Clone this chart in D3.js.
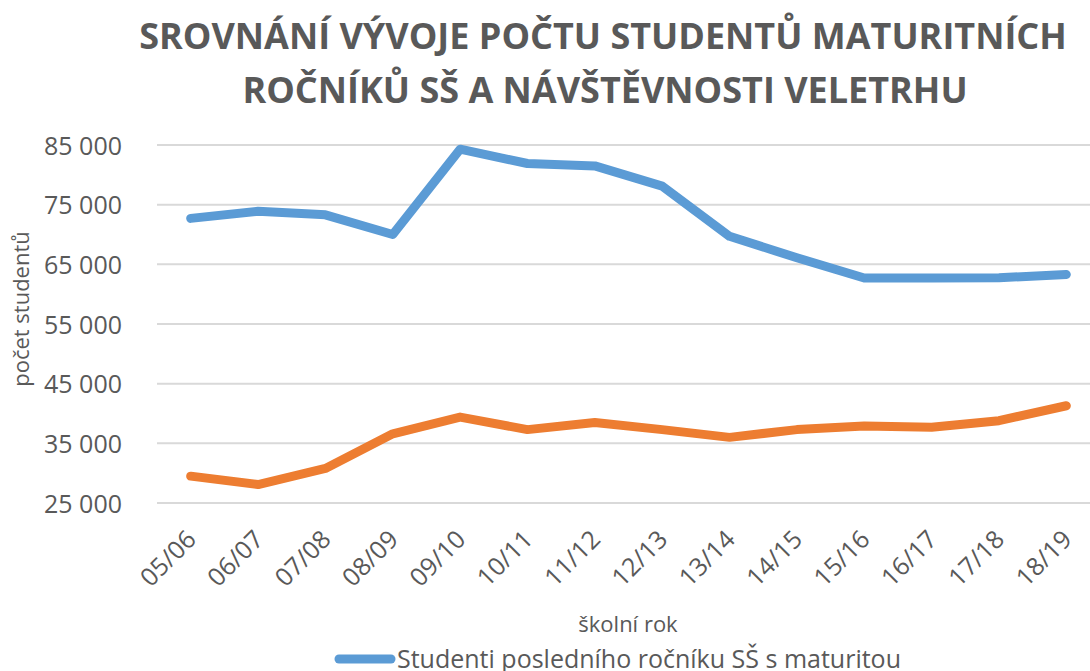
<!DOCTYPE html>
<html>
<head>
<meta charset="utf-8">
<script src="https://cdn.jsdelivr.net/npm/d3@7"></script>
<style>
	body { margin: 0; background: #fff; }
	svg { display: block; font-family: 'Open Sans', sans-serif; }
	.grid-line { stroke: #d9d9d9; stroke-width: 2; }
	.y-axis text, .x-axis text { fill: #595959; }
	.series { fill: none; stroke-width: 9; stroke-linecap: round; stroke-linejoin: round; }
</style>
</head>
<body>
<div id="chart-container"></div>
<script>
const years = ['05/06', '06/07', '07/08', '08/09', '09/10', '10/11', '11/12', '12/13', '13/14', '14/15', '15/16', '16/17', '17/18', '18/19'];
const students = [72700, 73900, 73300, 70000, 84300, 81900, 81500, 78100, 69700, 66100, 62700, 62700, 62750, 63300];
const visitors = [29500, 28100, 30800, 36600, 39400, 37300, 38500, 37300, 36000, 37300, 37900, 37700, 38800, 41300];
const yTicks = [25000, 35000, 45000, 55000, 65000, 75000, 85000];
const seriesNames = ['Studenti posledního ročníku SŠ s maturitou', 'Návštěvnost veletrhu'];
const colors = ['#5b9bd5', '#ed7d31'];

const width = 1090,
	height = 671;

const svg = d3
	.select('#chart-container')
	.append('svg')
	.attr('width', width)
	.attr('height', height);

const x = d3.scaleBand().domain(years).range([157, 1100]);
const y = d3.scaleLinear().domain([25000, 85000]).range([503, 145]);
const fmt = v => d3.format(',')(v).replace(',', ' ');

// title
const title = svg
	.append('text')
	.attr('text-anchor', 'middle')
	.style('font-weight', 'bold')
	.style('font-size', '36px')
	.style('fill', '#595959');
title.append('tspan').attr('x', 603).attr('y', 49).text('SROVNÁNÍ VÝVOJE POČTU STUDENTŮ MATURITNÍCH');
title.append('tspan').attr('x', 605).attr('y', 103).text('ROČNÍKŮ SŠ A NÁVŠTĚVNOSTI VELETRHU');

// gridlines
svg
	.append('g')
	.selectAll('line')
	.data(yTicks)
	.enter()
	.append('line')
	.attr('class', 'grid-line')
	.attr('x1', 157)
	.attr('x2', 1100)
	.attr('y1', d => y(d))
	.attr('y2', d => y(d));

// y axis
const yAxis = d3.axisLeft(y).tickValues(yTicks).tickFormat(fmt).tickSize(0).tickPadding(0);
const yAxisElem = svg
	.append('g')
	.attr('class', 'y-axis')
	.attr('transform', 'translate(122,0)')
	.call(yAxis);
yAxisElem.select('.domain').remove();
yAxisElem.selectAll('text').style('font-size', '25px').style('font-family', "'Open Sans', sans-serif").attr('dy', '0.36em');

svg
	.append('text')
	.attr('transform', 'translate(29,309) rotate(-90)')
	.attr('text-anchor', 'middle')
	.style('font-size', '22px')
	.style('fill', '#595959')
	.text('počet studentů');

// x axis
const xAxis = d3.axisBottom(x).tickSize(0).tickPadding(0);
const xAxisElem = svg
	.append('g')
	.attr('class', 'x-axis')
	.attr('transform', 'translate(0,503)')
	.call(xAxis);
xAxisElem.select('.domain').remove();
xAxisElem
	.selectAll('text')
	.style('font-size', '25px')
	.style('font-family', "'Open Sans', sans-serif")
	.attr('text-anchor', 'end')
	.attr('dy', 0)
	.attr('transform', 'translate(7,38) rotate(-45)');

svg
	.append('text')
	.attr('x', 628)
	.attr('y', 632)
	.attr('text-anchor', 'middle')
	.style('font-size', '22px')
	.style('fill', '#595959')
	.text('školní rok');

// lines
const line = d3
	.line()
	.x((d, i) => x(years[i]) + x.bandwidth() / 2)
	.y(d => y(d));

svg
	.append('g')
	.selectAll('path')
	.data([students, visitors])
	.enter()
	.append('path')
	.attr('class', 'series')
	.attr('d', d => line(d))
	.style('stroke', (d, i) => colors[i]);

// legend
const legend = svg
	.append('g')
	.selectAll('g')
	.data(seriesNames)
	.enter()
	.append('g')
	.attr('transform', (d, i) => 'translate(0,' + (659 + i * 32) + ')');
legend
	.append('line')
	.attr('x1', 339)
	.attr('x2', 391)
	.style('stroke', (d, i) => colors[i])
	.style('stroke-width', 9)
	.style('stroke-linecap', 'round');
legend
	.append('text')
	.attr('x', 397)
	.attr('y', 9)
	.style('font-size', '25px')
	.style('fill', '#595959')
	.text(d => d);
</script>
</body>
</html>
